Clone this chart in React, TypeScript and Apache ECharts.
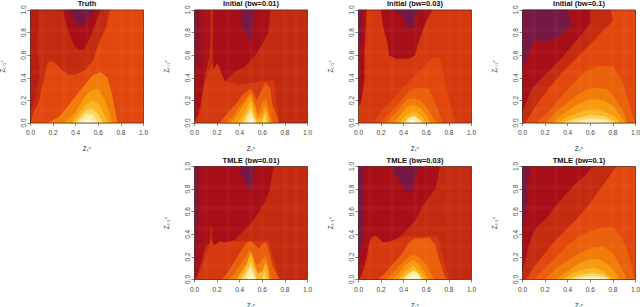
import React, { useEffect, useRef } from "react";
import * as echarts from "echarts";

type Band = [number, number[][]];

const levelColors = ["#751845", "#a80e18", "#c42a10", "#d4380e", "#e2480e", "#ea600c", "#f17c0a", "#f89a0e", "#fab624", "#fbd565", "#fdeca5", "#fff8d6", "#b61e14"];
const plaidX = [0.1, 0.3, 0.5, 0.6, 0.8, 0.9];
const plaidY = [0.12, 0.3, 0.45, 0.63, 0.82];

const truthBands: Band[] = [
  [4, [[0, 0], [1, 0], [1, 1], [0, 1]]],
  [2, [[0, 1], [0.7, 1], [0.67, 0.85], [0.6, 0.7], [0.55, 0.55], [0.48, 0.47], [0.4, 0.43], [0.33, 0.43], [0.27, 0.48], [0.2, 0.55], [0.15, 0.54], [0.12, 0.4], [0.075, 0.2], [0.02, 0.08], [0, 0]]],
  [12, [[0, 1], [0.07, 1], [0.07, 0.85], [0.055, 0.7], [0.07, 0.55], [0.075, 0.4], [0.03, 0.2], [0, 0.1]]],
  [1, [[0.29, 1], [0.31, 0.9], [0.35, 0.78], [0.39, 0.68], [0.43, 0.65], [0.47, 0.65], [0.5, 0.7], [0.55, 0.82], [0.6, 0.95], [0.62, 1]]],
  [0, [[0.33, 1], [0.38, 0.92], [0.43, 0.86], [0.46, 0.86], [0.5, 0.9], [0.56, 1]]],
  [6, [[0.15, 0], [0.25, 0.05], [0.35, 0.17], [0.45, 0.3], [0.55, 0.42], [0.62, 0.45], [0.68, 0.4], [0.72, 0.25], [0.76, 0.05], [0.77, 0]]],
  [7, [[0.3, 0], [0.4, 0.1], [0.47, 0.22], [0.53, 0.28], [0.6, 0.3], [0.65, 0.22], [0.7, 0.08], [0.72, 0]]],
  [8, [[0.36, 0], [0.43, 0.09], [0.5, 0.17], [0.55, 0.2], [0.6, 0.17], [0.65, 0.08], [0.69, 0]]],
  [9, [[0.39, 0], [0.45, 0.07], [0.5, 0.12], [0.55, 0.12], [0.6, 0.08], [0.64, 0]]],
  [10, [[0.41, 0], [0.46, 0.05], [0.5, 0.08], [0.55, 0.07], [0.6, 0]]],
  [11, [[0.44, 0], [0.48, 0.03], [0.53, 0.03], [0.57, 0]]],
];

const initial01Bands: Band[] = [
  [2, [[0, 0], [1, 0], [1, 1], [0, 1]]],
  [3, [[0.01, 0], [0.05, 0.1], [0.08, 0.3], [0.14, 0.5], [0.2, 0.53], [0.27, 0.37], [0.4, 0.34], [0.7, 0.38], [0.75, 0]]],
  [1, [[0, 1], [0.135, 1], [0.14, 0.8], [0.13, 0.6], [0.11, 0.5], [0.08, 0.35], [0.05, 0.15], [0.02, 0.05], [0, 0.03]]],
  [1, [[0.165, 1], [0.67, 1], [0.66, 0.9], [0.65, 0.8], [0.6, 0.7], [0.55, 0.62], [0.45, 0.5], [0.38, 0.47], [0.32, 0.42], [0.27, 0.37], [0.25, 0.42], [0.22, 0.5], [0.2, 0.53], [0.17, 0.48], [0.165, 0.6]]],
  [0, [[0.02, 1], [0.045, 1], [0.04, 0.7], [0.035, 0.5], [0.02, 0.55]]],
  [0, [[0.41, 1], [0.52, 1], [0.51, 0.8], [0.5, 0.72], [0.47, 0.78], [0.42, 0.85]]],
  [5, [[0.22, 0], [0.28, 0.07], [0.35, 0.15], [0.43, 0.25], [0.49, 0.3], [0.52, 0.27], [0.55, 0.2], [0.6, 0.3], [0.63, 0.36], [0.67, 0.3], [0.69, 0.15], [0.73, 0.06], [0.74, 0]]],
  [6, [[0.27, 0], [0.33, 0.05], [0.38, 0.12], [0.44, 0.2], [0.5, 0.27], [0.53, 0.17], [0.56, 0.09], [0.6, 0.18], [0.63, 0.22], [0.66, 0.12], [0.69, 0]]],
  [7, [[0.32, 0], [0.38, 0.07], [0.43, 0.15], [0.5, 0.25], [0.53, 0.15], [0.56, 0.05], [0.6, 0.1], [0.62, 0.15], [0.65, 0.1], [0.67, 0]]],
  [8, [[0.38, 0], [0.43, 0.07], [0.47, 0.14], [0.5, 0.2], [0.53, 0.1], [0.55, 0.03], [0.6, 0.05], [0.63, 0.12], [0.65, 0.05], [0.66, 0]]],
  [9, [[0.42, 0], [0.46, 0.07], [0.5, 0.14], [0.53, 0.05], [0.55, 0]]],
  [9, [[0.6, 0], [0.62, 0.08], [0.64, 0]]],
  [10, [[0.45, 0], [0.48, 0.07], [0.5, 0.1], [0.53, 0.03], [0.54, 0]]],
  [11, [[0.47, 0], [0.5, 0.05], [0.53, 0]]],
];

const initial03Bands: Band[] = [
  [3, [[0, 0], [1, 0], [1, 1], [0, 1]]],
  [1, [[0, 1], [0.07, 1], [0.06, 0.8], [0.05, 0.6], [0.05, 0.4], [0.04, 0.3], [0.02, 0.18], [0, 0.15]]],
  [0, [[0.005, 1], [0.03, 1], [0.025, 0.7], [0.01, 0.7]]],
  [1, [[0.2, 1], [0.22, 0.85], [0.26, 0.7], [0.27, 0.6], [0.33, 0.57], [0.45, 0.57], [0.5, 0.6], [0.52, 0.68], [0.56, 0.8], [0.6, 0.9], [0.65, 1]]],
  [0, [[0.32, 1], [0.4, 0.93], [0.43, 0.85], [0.48, 0.84], [0.5, 0.93], [0.54, 1]]],
  [4, [[0.13, 0], [0.2, 0.1], [0.3, 0.2], [0.4, 0.32], [0.5, 0.42], [0.6, 0.52], [0.66, 0.58], [0.72, 0.57], [0.75, 0.45], [0.8, 0.2], [0.85, 0.03], [0.86, 0]]],
  [5, [[0.2, 0], [0.26, 0.07], [0.33, 0.14], [0.4, 0.23], [0.47, 0.3], [0.55, 0.31], [0.62, 0.3], [0.67, 0.2], [0.72, 0.07], [0.74, 0]]],
  [6, [[0.25, 0], [0.3, 0.06], [0.36, 0.12], [0.42, 0.2], [0.48, 0.22], [0.55, 0.2], [0.6, 0.14], [0.65, 0.06], [0.69, 0]]],
  [7, [[0.31, 0], [0.37, 0.07], [0.43, 0.14], [0.48, 0.16], [0.55, 0.13], [0.6, 0.07], [0.64, 0]]],
  [8, [[0.36, 0], [0.41, 0.06], [0.48, 0.1], [0.52, 0.09], [0.57, 0.04], [0.6, 0]]],
  [10, [[0.4, 0], [0.45, 0.05], [0.5, 0.06], [0.55, 0.02], [0.57, 0]]],
  [11, [[0.43, 0], [0.48, 0.03], [0.54, 0]]],
];

const initial1Bands: Band[] = [
  [4, [[0, 0], [1, 0], [1, 1], [0, 1]]],
  [2, [[0, 1], [0.78, 1], [0.8, 0.9], [0.72, 0.83], [0.65, 0.75], [0.55, 0.65], [0.45, 0.55], [0.35, 0.45], [0.25, 0.33], [0.15, 0.2], [0.07, 0.08], [0.02, 0], [0, 0]]],
  [1, [[0, 1], [0.6, 1], [0.6, 0.88], [0.52, 0.78], [0.43, 0.68], [0.35, 0.58], [0.25, 0.48], [0.15, 0.38], [0.07, 0.28], [0.02, 0.15], [0, 0.1]]],
  [0, [[0, 1], [0.4, 1], [0.43, 0.88], [0.38, 0.8], [0.3, 0.76], [0.2, 0.72], [0.12, 0.74], [0.08, 0.7], [0.05, 0.6], [0.03, 0.55], [0, 0.5]]],
  [5, [[0.12, 0], [0.25, 0.12], [0.35, 0.24], [0.45, 0.35], [0.55, 0.45], [0.65, 0.5], [0.8, 0.5], [0.87, 0.4], [0.92, 0.25], [0.97, 0.08], [1, 0]]],
  [6, [[0.2, 0], [0.3, 0.1], [0.42, 0.2], [0.55, 0.29], [0.65, 0.31], [0.75, 0.3], [0.82, 0.22], [0.88, 0.12], [0.93, 0]]],
  [7, [[0.26, 0], [0.36, 0.08], [0.48, 0.16], [0.6, 0.21], [0.72, 0.2], [0.8, 0.15], [0.87, 0.06], [0.91, 0]]],
  [8, [[0.3, 0], [0.42, 0.06], [0.55, 0.11], [0.65, 0.12], [0.75, 0.09], [0.82, 0.05], [0.87, 0]]],
  [9, [[0.35, 0], [0.47, 0.04], [0.6, 0.07], [0.72, 0.06], [0.84, 0]]],
  [10, [[0.4, 0], [0.5, 0.02], [0.6, 0.04], [0.72, 0.03], [0.81, 0]]],
  [11, [[0.48, 0], [0.58, 0.015], [0.7, 0.015], [0.76, 0]]],
];

const tmle01Bands: Band[] = [
  [2, [[0, 0], [1, 0], [1, 1], [0, 1]]],
  [3, [[0.02, 0], [0.07, 0.12], [0.1, 0.22], [0.15, 0.34], [0.3, 0.34], [0.66, 0.34], [0.75, 0]]],
  [1, [[0, 1], [0.7, 1], [0.68, 0.9], [0.66, 0.78], [0.62, 0.68], [0.57, 0.6], [0.5, 0.5], [0.42, 0.42], [0.35, 0.35], [0.28, 0.33], [0.22, 0.34], [0.2, 0.32], [0.17, 0.3], [0.16, 0.35], [0.155, 0.48], [0.145, 0.47], [0.13, 0.33], [0.08, 0.25], [0.06, 0.15], [0.02, 0.03], [0, 0]]],
  [0, [[0.015, 1], [0.04, 1], [0.035, 0.8], [0.035, 0.5], [0.025, 0.3], [0.015, 0.3]]],
  [0, [[0.4, 1], [0.53, 1], [0.52, 0.9], [0.5, 0.78], [0.48, 0.8], [0.44, 0.87], [0.41, 0.93]]],
  [5, [[0.24, 0], [0.3, 0.07], [0.36, 0.17], [0.43, 0.28], [0.47, 0.33], [0.5, 0.34], [0.54, 0.3], [0.57, 0.27], [0.6, 0.31], [0.63, 0.33], [0.66, 0.25], [0.69, 0.12], [0.73, 0.04], [0.75, 0]]],
  [6, [[0.3, 0], [0.36, 0.06], [0.4, 0.12], [0.45, 0.2], [0.49, 0.26], [0.52, 0.2], [0.55, 0.12], [0.58, 0.15], [0.63, 0.22], [0.66, 0.1], [0.68, 0]]],
  [8, [[0.37, 0], [0.42, 0.07], [0.46, 0.13], [0.5, 0.24], [0.53, 0.13], [0.56, 0.05], [0.6, 0.07], [0.63, 0.15], [0.65, 0.08], [0.66, 0]]],
  [9, [[0.41, 0], [0.45, 0.06], [0.5, 0.15], [0.53, 0.07], [0.55, 0]]],
  [9, [[0.6, 0], [0.62, 0.07], [0.64, 0]]],
  [10, [[0.44, 0], [0.48, 0.08], [0.5, 0.11], [0.52, 0.06], [0.54, 0]]],
  [11, [[0.47, 0], [0.5, 0.05], [0.53, 0]]],
];

const tmle03Bands: Band[] = [
  [2, [[0, 0], [1, 0], [1, 1], [0, 1]]],
  [3, [[0.01, 0], [0.05, 0.1], [0.08, 0.22], [0.1, 0.33], [0.14, 0.39], [0.18, 0.36], [0.23, 0.33], [0.3, 0.34], [0.4, 0.38], [0.7, 0.38], [0.8, 0]]],
  [1, [[0, 1], [0.72, 1], [0.7, 0.9], [0.68, 0.8], [0.6, 0.7], [0.55, 0.62], [0.5, 0.52], [0.43, 0.44], [0.35, 0.37], [0.28, 0.34], [0.22, 0.33], [0.17, 0.38], [0.13, 0.39], [0.1, 0.35], [0.08, 0.25], [0.05, 0.12], [0.02, 0.03], [0, 0]]],
  [0, [[0, 1], [0.05, 1], [0.04, 0.8], [0.04, 0.5], [0.03, 0.3], [0, 0.2]]],
  [0, [[0.28, 1], [0.33, 0.93], [0.38, 0.85], [0.42, 0.78], [0.46, 0.76], [0.48, 0.82], [0.5, 0.9], [0.53, 1]]],
  [5, [[0.17, 0], [0.23, 0.05], [0.3, 0.13], [0.38, 0.22], [0.45, 0.33], [0.5, 0.36], [0.63, 0.37], [0.68, 0.3], [0.72, 0.15], [0.76, 0.03], [0.78, 0]]],
  [6, [[0.24, 0], [0.3, 0.05], [0.36, 0.12], [0.42, 0.18], [0.48, 0.22], [0.53, 0.2], [0.58, 0.15], [0.63, 0.07], [0.67, 0]]],
  [7, [[0.3, 0], [0.36, 0.06], [0.42, 0.13], [0.48, 0.17], [0.54, 0.13], [0.58, 0.07], [0.62, 0]]],
  [8, [[0.35, 0], [0.4, 0.06], [0.48, 0.12], [0.52, 0.09], [0.57, 0.04], [0.59, 0]]],
  [10, [[0.39, 0], [0.44, 0.05], [0.49, 0.08], [0.53, 0.05], [0.56, 0]]],
  [11, [[0.43, 0], [0.48, 0.04], [0.52, 0.03], [0.54, 0]]],
];

const tmle1Bands: Band[] = [
  [4, [[0, 0], [1, 0], [1, 1], [0, 1]]],
  [2, [[0, 1], [0.83, 1], [0.78, 0.93], [0.7, 0.82], [0.6, 0.68], [0.5, 0.56], [0.4, 0.46], [0.32, 0.38], [0.22, 0.26], [0.12, 0.14], [0.05, 0.03], [0.02, 0], [0, 0]]],
  [1, [[0, 1], [0.62, 1], [0.55, 0.92], [0.45, 0.83], [0.35, 0.72], [0.27, 0.62], [0.2, 0.53], [0.13, 0.47], [0.08, 0.38], [0.04, 0.25], [0.01, 0.12], [0, 0.08]]],
  [0, [[0, 1], [0.07, 1], [0.05, 0.9], [0.04, 0.7], [0.02, 0.5], [0, 0.42]]],
  [5, [[0.1, 0], [0.2, 0.1], [0.3, 0.2], [0.4, 0.3], [0.5, 0.38], [0.6, 0.43], [0.72, 0.46], [0.8, 0.46], [0.87, 0.38], [0.93, 0.25], [0.97, 0.1], [0.99, 0]]],
  [6, [[0.2, 0], [0.3, 0.1], [0.42, 0.18], [0.52, 0.24], [0.62, 0.28], [0.72, 0.29], [0.8, 0.23], [0.86, 0.13], [0.9, 0.05], [0.92, 0]]],
  [7, [[0.3, 0], [0.4, 0.07], [0.5, 0.14], [0.6, 0.18], [0.68, 0.18], [0.76, 0.13], [0.83, 0.05], [0.86, 0]]],
  [8, [[0.35, 0], [0.45, 0.06], [0.55, 0.09], [0.65, 0.1], [0.72, 0.07], [0.8, 0]]],
  [9, [[0.4, 0], [0.5, 0.04], [0.62, 0.06], [0.72, 0.04], [0.78, 0]]],
  [10, [[0.45, 0], [0.55, 0.025], [0.65, 0.03], [0.72, 0.02], [0.76, 0]]],
  [11, [[0.5, 0], [0.58, 0.012], [0.66, 0.012], [0.72, 0]]],
];

const panelTitles = ["Truth", "Initial (bw=0.01)", "Initial (bw=0.03)", "Initial (bw=0.1)", "TMLE (bw=0.01)", "TMLE (bw=0.03)", "TMLE (bw=0.1)"];
const panelBands = [truthBands, initial01Bands, initial03Bands, initial1Bands, tmle01Bands, tmle03Bands, tmle1Bands];
const panelLeft = [30.5, 194.5, 358.5, 522.5, 194.5, 358.5, 522.5];
const panelTop = [10, 10, 10, 10, 166.5, 166.5, 166.5];
const panelWidth = 113;
const panelHeight = 113;
const xAxisName = "Zₜᶜ";
const yAxisName = "Zₜ₋₁ᶜ";

function buildOption() {
  const font = '"Liberation Sans", Arial, sans-serif';
  const grid: any[] = [], xAxis: any[] = [], yAxis: any[] = [], series: any[] = [], title: any[] = [];
  panelBands.forEach((bands, i) => {
    grid.push({ left: panelLeft[i], top: panelTop[i], width: panelWidth, height: panelHeight, containLabel: false, outerBoundsMode: "none" });
    title.push({
      text: panelTitles[i],
      left: panelLeft[i] + panelWidth / 2,
      top: panelTop[i] - 11,
      textAlign: "center",
      padding: 0,
      textStyle: { fontFamily: font, fontSize: 7.5, fontWeight: "bold", color: "#111", lineHeight: 9 },
    });
    const axisCommon = {
      type: "value",
      gridIndex: i,
      min: 0,
      max: 1,
      interval: 0.2,
      splitLine: { show: false },
      axisLine: { show: false },
      axisTick: { show: true, length: 3, lineStyle: { color: "#555", width: 0.7 } },
      nameLocation: "middle",
      nameTextStyle: { fontFamily: font, fontSize: 6.5, color: "#333" },
    };
    xAxis.push({
      ...axisCommon,
      name: xAxisName,
      nameGap: 22,
      axisLabel: { fontFamily: font, fontSize: 6.5, color: "#444", margin: 6, formatter: (v: number) => v.toFixed(1), hideOverlap: false },
    });
    yAxis.push({
      ...axisCommon,
      name: yAxisName,
      nameGap: 25,
      axisLabel: { fontFamily: font, fontSize: 6.5, color: "#444", margin: 7, rotate: 90, formatter: (v: number) => v.toFixed(1), verticalAlign: "middle", align: "center" },
    });
    const plaid: any[] = [];
    plaidX.forEach((x) => plaid.push({ kind: "plaid", pts: [[x - 0.02, 0], [x + 0.02, 0], [x + 0.02, 1], [x - 0.02, 1]] }));
    plaidY.forEach((y) => plaid.push({ kind: "plaid", pts: [[0, y - 0.02], [1, y - 0.02], [1, y + 0.02], [0, y + 0.02]] }));
    const items = [
      ...bands.map(([level, pts]) => ({ kind: "band", level, pts })),
      ...plaid,
      { kind: "box", pts: [[0, 0], [1, 0], [1, 1], [0, 1]] },
    ];
    series.push({
      type: "custom",
      xAxisIndex: i,
      yAxisIndex: i,
      clip: false,
      silent: true,
      coordinateSystem: "cartesian2d",
      encode: { x: 0, y: 1 },
      data: items.map((it) => [it.pts[0][0], it.pts[0][1]]),
      renderItem: (params: any, api: any) => {
        const it: any = items[params.dataIndex];
        const points = it.pts.map((p: number[]) => api.coord(p));
        if (it.kind === "band") {
          const c = levelColors[it.level];
          return { type: "polygon", shape: { points }, style: { fill: c, stroke: c, lineWidth: 0.3 } };
        }
        if (it.kind === "plaid") {
          return { type: "polygon", shape: { points }, style: { fill: "rgba(255,220,160,0.03)" } };
        }
        return { type: "polygon", shape: { points }, style: { fill: "none", stroke: "#4a2a26", lineWidth: 0.7 } };
      },
    });
  });
  return { animation: false, backgroundColor: "#ffffff", title, grid, xAxis, yAxis, series, tooltip: { show: false } };
}

export default function App() {
  const ref = useRef<HTMLDivElement>(null);
  useEffect(() => {
    document.body.style.margin = "0";
    const chart = echarts.init(ref.current!, undefined, { renderer: "svg" });
    chart.setOption(buildOption() as any);
    return () => chart.dispose();
  }, []);
  return <div ref={ref} style={{ width: 640, height: 307 }} />;
}
